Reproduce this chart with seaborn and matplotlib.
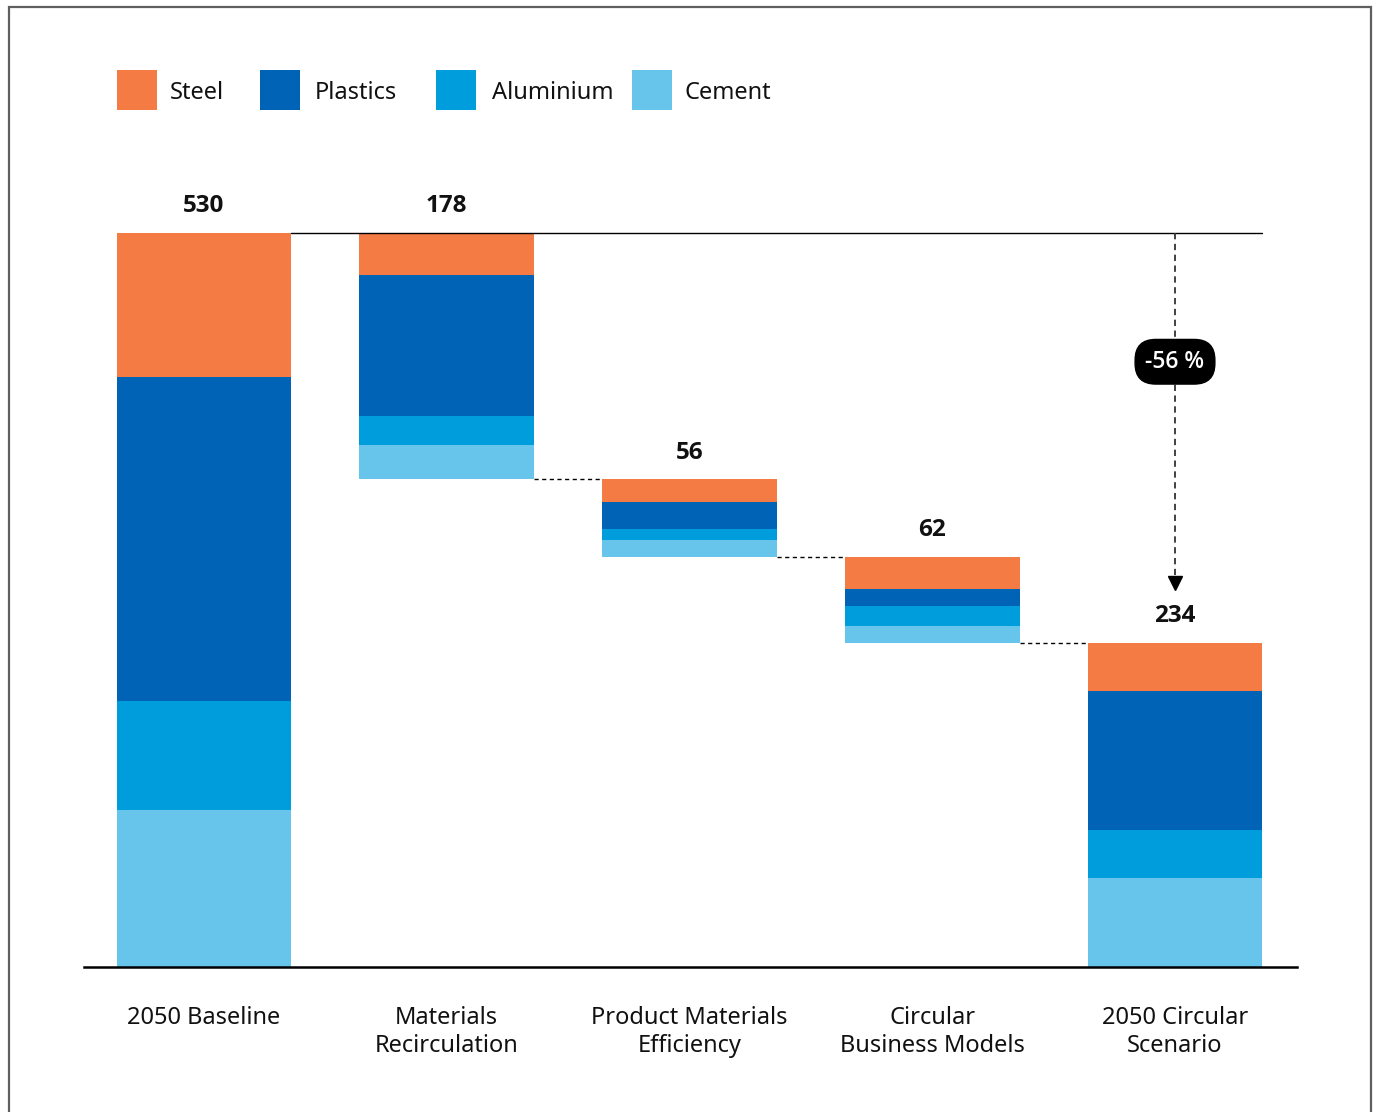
import numpy as np
import pandas as pd
import matplotlib
matplotlib.use("Agg")
import matplotlib.pyplot as plt
from matplotlib.patches import Rectangle
import seaborn as sns

# Stages of the waterfall and material breakdown (Mt CO2)
stages = ["2050 Baseline", "Materials\nRecirculation", "Product Materials\nEfficiency",
          "Circular\nBusiness Models", "2050 Circular\nScenario"]
materials = ["Steel", "Plastics", "Aluminium", "Cement"]
steel = [104, 30, 16, 23, 35]
plastics = [234, 102, 20, 12, 100]
aluminium = [79, 21, 8, 15, 35]
cement = [113, 25, 12, 12, 64]
totals = [530, 178, 56, 62, 234]
reduction_label = "-56 %"

palette = {"Steel": "#F47B44", "Plastics": "#0063B6",
           "Aluminium": "#009DDC", "Cement": "#67C4EA"}

sns.set_theme(style="white")
plt.rcParams["font.family"] = ["Noto Sans", "DejaVu Sans"]
bold_family = ["Open Sans", "DejaVu Sans"]

W, H = 1377, 1112
fig = plt.figure(figsize=(W / 100, H / 100), dpi=100)
ax = fig.add_axes([84 / W, 1 - 967 / H, 1213 / W, 831 / H])

# bar bases: first and last stand on zero, the reductions hang from the running level
bases = []
level = totals[0]
for i, t in enumerate(totals):
    if i == 0 or i == len(totals) - 1:
        bases.append(0)
    else:
        level = level - t
        bases.append(level)
bases = np.array(bases, dtype=float)

series = {"Steel": steel, "Plastics": plastics, "Aluminium": aluminium, "Cement": cement}
stack_order = ["Cement", "Aluminium", "Plastics", "Steel"]  # bottom to top
bottom = bases.copy()
for m in stack_order:
    vals = np.array(series[m], dtype=float)
    df = pd.DataFrame({"stage": stages, "value": vals})
    sns.barplot(data=df, x="stage", y="value", order=stages, color=palette[m],
                saturation=1, width=0.72, errorbar=None, bottom=bottom.copy(),
                linewidth=0, ax=ax)
    bottom = bottom + vals

bar_w = 0.72
# line along the baseline level
ax.plot([0 + bar_w / 2, 4 + bar_w / 2], [totals[0], totals[0]], color="black", lw=1.0, zorder=3)

# dashed connectors between successive bars
for i in range(1, 4):
    y = bases[i]
    ax.plot([i + bar_w / 2, i + 1 - bar_w / 2], [y, y], color="black", lw=1.0,
            ls=(0, (3, 2.5)), zorder=3)

# reduction arrow
ax.plot([4, 4], [totals[0], 283], color="#333333", lw=1.3, ls=(0, (3.5, 2.5)), zorder=3)
ax.plot([4], [277], marker="v", ms=10, color="black", zorder=4)
ax.text(4, 437, reduction_label, ha="center", va="center", color="white", fontsize=16.5,
        family=bold_family, fontweight="semibold", zorder=5,
        bbox=dict(boxstyle="round,pad=0.45,rounding_size=0.9", fc="black", ec="black"))

# totals above each bar
for i, t in enumerate(totals):
    top = bases[i] + t
    ax.annotate(str(t), (i, top), xytext=(0, 15), textcoords="offset points",
                ha="center", va="baseline", fontsize=17.5, fontweight="bold",
                family=bold_family, color="#111111")

ax.set_xlim(-0.4943, 4.5026)
ax.set_ylim(0, 600)
ax.set_xlabel("")
ax.set_ylabel("")
ax.set_yticks([])
ax.set_xticks(range(len(stages)))
ax.set_xticklabels(stages, fontsize=17, color="#111111", linespacing=1.22)
ax.tick_params(axis="x", length=0, pad=28)
for s in ["top", "right", "left"]:
    ax.spines[s].set_visible(False)
ax.spines["bottom"].set_color("black")
ax.spines["bottom"].set_linewidth(1.8)

# legend drawn in figure coordinates
leg_x = [117, 260, 436, 632]
txt_x = [170, 315, 492, 685]
for m, px, tx in zip(materials, leg_x, txt_x):
    fig.add_artist(Rectangle((px / W, 1 - 110 / H), 40 / W, 40 / H,
                             transform=fig.transFigure, color=palette[m], lw=0))
    fig.text(tx / W, 1 - 93 / H, m, ha="left", va="center", fontsize=17, color="#111111")

# frame
fig.add_artist(Rectangle((8.5 / W, -0.05), (1371 - 8.5) / W, 0.05 + (H - 7) / H,
                         transform=fig.transFigure, fill=False, ec="#5f5f5f", lw=1.6))

fig.savefig("out.png", dpi=100, facecolor="white")
